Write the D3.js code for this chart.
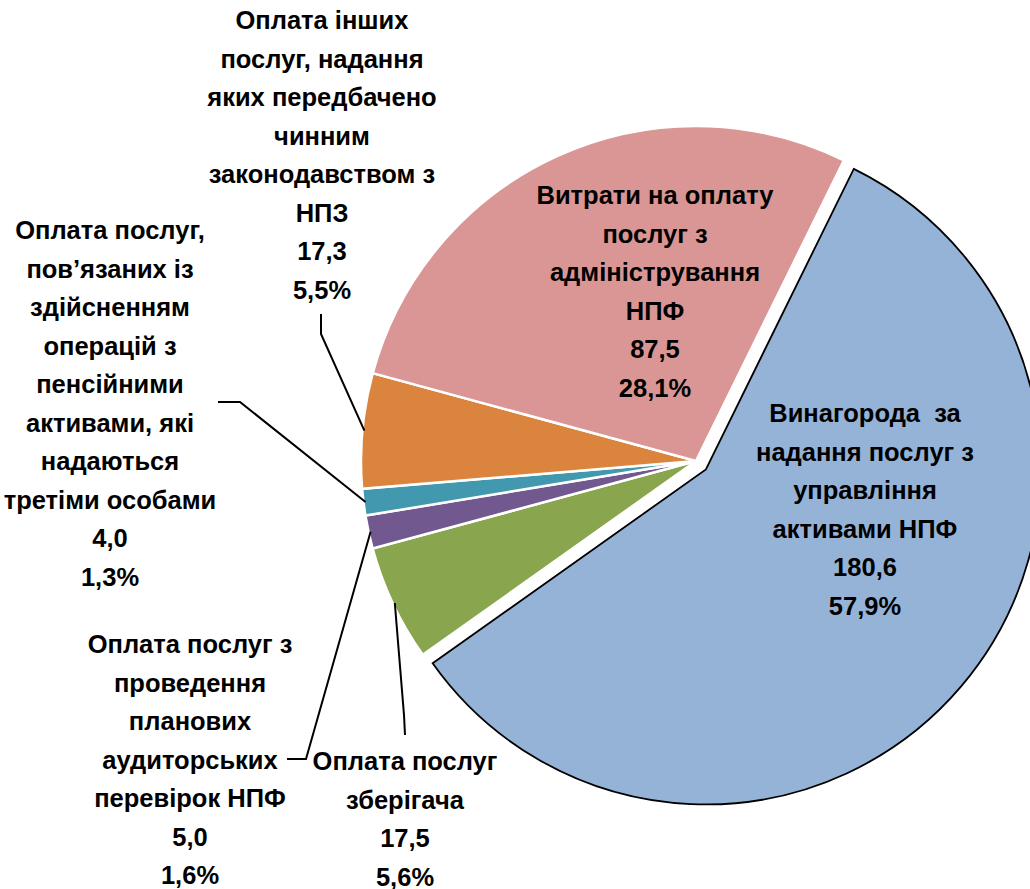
<!DOCTYPE html>
<html>
<head>
<meta charset="utf-8">
<script src="https://cdn.jsdelivr.net/npm/d3@7"></script>
<style>
    html, body { margin: 0; padding: 0; background: #fff; }
    svg { display: block; }
    text { font-family: 'Liberation Sans', 'Arial', sans-serif; font-weight: bold; fill: #000; }
</style>
</head>
<body>
<div id="chart"></div>
<script>
// Slice names, split into lines as in the chart
const categories = [
    ['Винагорода  за', 'надання послуг з', 'управління', 'активами НПФ'],
    ['Оплата послуг', 'зберігача'],
    ['Оплата послуг з', 'проведення', 'планових', 'аудиторських', 'перевірок НПФ'],
    ['Оплата послуг,', 'пов’язаних із', 'здійсненням', 'операцій з', 'пенсійними', 'активами, які', 'надаються', 'третіми особами'],
    ['Оплата інших', 'послуг, надання', 'яких передбачено', 'чинним', 'законодавством з', 'НПЗ'],
    ['Витрати на оплату', 'послуг з', 'адміністрування', 'НПФ'],
]
const values = [180.6, 17.5, 5.0, 4.0, 17.3, 87.5]
const colors = ['#95B3D7', '#89A54E', '#71588F', '#4198AF', '#DB843D', '#D99694']

// Chart layout
const config = {
    w: 1030,
    h: 889,
    cx: 696,
    cy: 461,
    r: 335,
    startDeg: 26.2, // first slice begins here, clockwise from 12 o'clock
    explode: 13, // offset of the first slice
    fontSize: 25.5,
    lineHeight: 38.5,
}

// Label anchors (centre x, centre y of first line) and leader elbows
const labelLayout = [
    { x: 865, y: 413 },
    { x: 405, y: 761, leader: [[404, 715], [405, 735]] },
    { x: 190, y: 644, leader: [[306, 759], [287, 759]] },
    { x: 110, y: 230, leader: [[240, 402], [218, 402]] },
    { x: 322, y: 20, leader: [[321, 334], [321, 314]] },
    { x: 655, y: 195 },
]

const locale = d3.formatLocale({ decimal: ',', thousands: ' ', grouping: [3], currency: ['', ''] })
const fmtValue = locale.format('.1f')
const fmtPct = locale.format('.1%')

const total = d3.sum(values)
const entries = values.map((v, i) => ({ name: categories[i], value: v, color: colors[i], layout: labelLayout[i] }))

const svg = d3
    .select('#chart')
    .append('svg')
    .attr('width', config.w)
    .attr('height', config.h)

const start = (config.startDeg * Math.PI) / 180
const pie = d3
    .pie()
    .sort(null)
    .value((d) => d.value)
    .startAngle(start)
    .endAngle(start + 2 * Math.PI)

const arcs = pie(entries)
const arc = d3.arc().innerRadius(0).outerRadius(config.r)

const plot = svg.append('g').attr('transform', `translate(${config.cx}, ${config.cy})`)

// Position on the pie for a given angle and radius
const polar = (a, rr) => [Math.sin(a) * rr, -Math.cos(a) * rr]

arcs.forEach((d, i) => {
    const mid = (d.startAngle + d.endAngle) / 2
    const off = i === 0 ? polar(mid, config.explode) : [0, 0]
    const g = plot.append('g').attr('transform', `translate(${off[0]}, ${off[1]})`)
    if (i === 0) {
        g.append('path')
            .attr('d', arc(d))
            .attr('fill', d.data.color)
            .attr('stroke', '#fff')
            .attr('stroke-width', 9)
            .attr('stroke-linejoin', 'miter')
        g.append('path')
            .attr('d', arc(d))
            .attr('fill', d.data.color)
            .attr('stroke', '#000')
            .attr('stroke-width', 1.8)
            .attr('stroke-linejoin', 'miter')
    } else {
        g.append('path')
            .attr('d', arc(d))
            .attr('fill', d.data.color)
            .attr('stroke', '#fff')
            .attr('stroke-width', 2.5)
    }
})

// Leader lines from slice edge to labels
arcs.forEach((d) => {
    const lay = d.data.layout
    if (!lay.leader) return
    const mid = (d.startAngle + d.endAngle) / 2
    const p0 = polar(mid, config.r - 2)
    const pts = [[config.cx + p0[0], config.cy + p0[1]], ...lay.leader]
    svg.append('path')
        .attr('d', d3.line()(pts))
        .attr('fill', 'none')
        .attr('stroke', '#000')
        .attr('stroke-width', 2)
})

// Labels: name lines, value, percent
arcs.forEach((d) => {
    const lay = d.data.layout
    const lines = [...d.data.name, fmtValue(d.data.value), fmtPct(d.data.value / total)]
    const t = svg
        .append('text')
        .attr('text-anchor', 'middle')
        .attr('font-size', config.fontSize)
        .attr('xml:space', 'preserve')
    lines.forEach((s, k) => {
        t.append('tspan')
            .attr('x', lay.x)
            .attr('y', lay.y + k * config.lineHeight)
            .attr('dominant-baseline', 'central')
            .text(s)
    })
})
</script>
</body>
</html>
